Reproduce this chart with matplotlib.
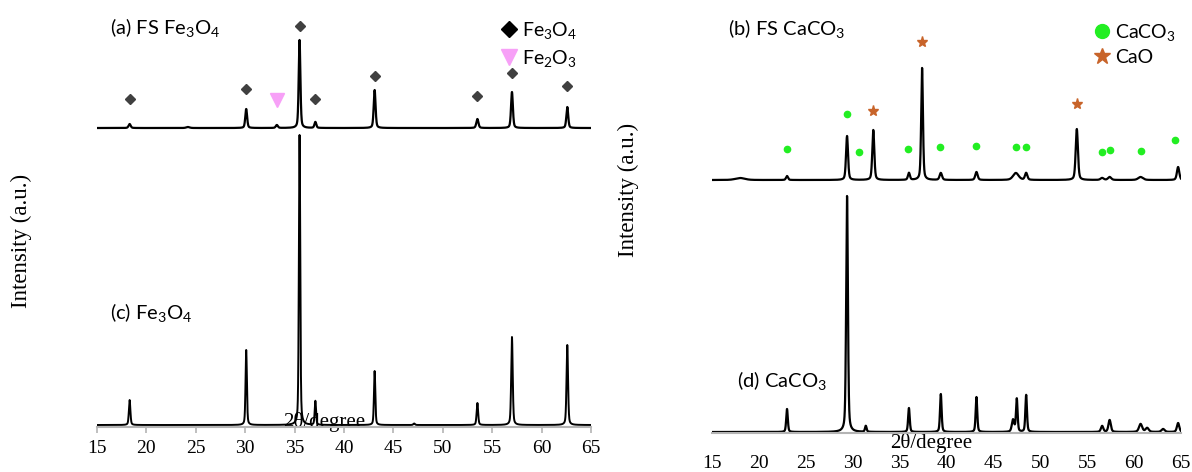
import numpy as np
import matplotlib.pyplot as plt

plt.rcParams['mathtext.fontset'] = 'custom'
plt.rcParams['mathtext.rm'] = 'Lato'
plt.rcParams['mathtext.it'] = 'Lato:italic'

# ---- data (2theta in degrees, intensity in a.u.) ----
# (a) FS Fe3O4
a_pos = [18.3, 24.2, 30.1, 33.2, 35.5, 37.1, 43.1, 53.5, 57.0, 62.6]
a_hgt = [4, 1, 19, 3, 88, 6, 38, 9, 36, 21]
a_wid = [0.25, 0.4, 0.22, 0.25, 0.2, 0.22, 0.22, 0.25, 0.22, 0.22]
# (c) Fe3O4
c_pos = [18.3, 30.1, 35.5, 37.1, 43.1, 47.1, 53.5, 57.0, 62.6]
c_hgt = [25, 75, 290, 24, 54, 1.5, 22, 88, 80]
c_wid = [0.18, 0.16, 0.16, 0.16, 0.16, 0.2, 0.18, 0.18, 0.18]
# (b) FS CaCO3
b_pos = [18.0, 23.0, 29.4, 32.2, 36.0, 37.4, 39.4, 43.2, 47.4, 48.5, 53.9, 56.6, 57.4, 60.7, 64.7]
b_hgt = [2, 4, 44, 50, 7, 112, 7, 8, 7, 7, 51, 2, 3, 3, 13]
b_wid = [1.2, 0.25, 0.25, 0.25, 0.25, 0.22, 0.3, 0.3, 0.7, 0.3, 0.28, 0.4, 0.4, 0.6, 0.3]
# (d) CaCO3
d_pos = [23.0, 29.4, 31.4, 36.0, 39.4, 43.2, 47.1, 47.5, 48.5, 56.6, 57.4, 60.7, 61.4, 63.1, 64.7]
d_hgt = [23, 236, 6, 24, 38, 35, 12, 33, 37, 6, 12, 8, 4, 3, 9]
d_wid = [0.2, 0.22, 0.2, 0.2, 0.2, 0.2, 0.3, 0.2, 0.2, 0.3, 0.3, 0.4, 0.4, 0.4, 0.3]

# phase markers (position, height on the plot)
fe3o4_x = [18.3, 30.1, 35.5, 37.1, 43.1, 53.5, 57.0, 62.6]
fe3o4_y = [328, 338, 401, 328, 351, 331, 354, 341]
fe2o3_x = [33.2]
fe2o3_y = [327]
caco3_x = [23.0, 29.4, 30.7, 35.9, 39.3, 43.2, 47.4, 48.5, 56.6, 57.4, 60.7, 64.4]
caco3_y = [284, 319, 281, 284, 286, 287, 286, 286, 281, 283, 282, 293]
cao_x = [32.2, 37.4, 53.9]
cao_y = [322, 391, 329]

tick_vals = [15, 20, 25, 30, 35, 40, 45, 50, 55, 60, 65]

tt = np.linspace(15, 65, 5001)


def pattern(pos, hgt, wid):
    y = np.zeros_like(tt)
    for p, h, w in zip(pos, hgt, wid):
        d = (tt - p) / (w / 2)
        y += h * (0.6 * np.exp(-np.log(2) * d**2) + 0.4 / (1 + d**2))
    return y


fig = plt.figure(figsize=(11.92, 4.72), dpi=100)
axL = fig.add_axes([0.0814, 0.0953, 0.4144, 0.8835])
axR = fig.add_axes([0.5973, 0.0826, 0.3934, 0.8962])

axL.plot(tt, pattern(a_pos, a_hgt, a_wid) + 299, color='black', lw=1.6)
axL.plot(tt, pattern(c_pos, c_hgt, c_wid) + 2, color='black', lw=1.4)
axL.plot(fe3o4_x, fe3o4_y, 'D', color='#404040', ms=5.5, ls='none')
axL.plot(fe2o3_x, fe2o3_y, 'v', color='#f7a0f7', ms=10, ls='none')
axL.set_ylim(0, 417)

axR.plot(tt, pattern(b_pos, b_hgt, b_wid) + 253, color='black', lw=1.6)
axR.plot(tt, pattern(d_pos, d_hgt, d_wid) + 1, color='black', lw=1.6)
axR.plot(caco3_x, caco3_y, 'o', color='#22ee22', ms=4.5, ls='none')
axR.plot(cao_x, cao_y, '*', color='#c8642a', ms=8, ls='none')
axR.set_ylim(0, 423)

lab_font = dict(family='Lato', fontsize=14.5)
axL.text(0.027, 0.957, '(a) FS Fe$_3$O$_4$', transform=axL.transAxes, va='center', **lab_font)
axL.text(0.027, 0.275, '(c) Fe$_3$O$_4$', transform=axL.transAxes, va='center', **lab_font)
axR.text(0.035, 0.957, '(b) FS CaCO$_3$', transform=axR.transAxes, va='center', **lab_font)
axR.text(0.053, 0.123, '(d) CaCO$_3$', transform=axR.transAxes, va='center', **lab_font)

hL = [plt.Line2D([], [], marker='D', color='black', ls='none', ms=8),
      plt.Line2D([], [], marker='v', color='#f7a0f7', ls='none', ms=11)]
axL.legend(hL, ['Fe$_3$O$_4$', 'Fe$_2$O$_3$'], loc='upper left', bbox_to_anchor=(0.805, 0.995),
           frameon=False, handlelength=0.7, handletextpad=0.3, labelspacing=0.35,
           prop={'family': 'Lato', 'size': 14}, borderaxespad=0)
hR = [plt.Line2D([], [], marker='o', color='#22ee22', ls='none', ms=10),
      plt.Line2D([], [], marker='*', color='#c8642a', ls='none', ms=12)]
axR.legend(hR, ['CaCO$_3$', 'CaO'], loc='upper left', bbox_to_anchor=(0.8, 0.99),
           frameon=False, handlelength=0.7, handletextpad=0.35, labelspacing=0.3,
           prop={'family': 'Lato', 'size': 14}, borderaxespad=0)

for ax, tl, pad in ((axL, 4, 5.5), (axR, 0, 16)):
    ax.set_xlim(15, 65)
    ax.set_xticks(tick_vals)
    ax.set_yticks([])
    for s in ('left', 'right', 'top'):
        ax.spines[s].set_visible(False)
    ax.spines['bottom'].set_color('#b4b4b4')
    ax.spines['bottom'].set_linewidth(1.5)
    ax.tick_params(axis='x', direction='out', length=tl, width=1.2, color='#b4b4b4',
                   pad=pad, labelsize=14)
    for lbl in ax.get_xticklabels():
        lbl.set_family('Liberation Serif')
    ax.set_xlabel('2θ/degree', family='Liberation Serif', fontsize=15)
    ax.set_facecolor('none')

axL.xaxis.set_label_coords(0.46, 0.035)
axR.xaxis.set_label_coords(0.468, 0.0)

fig.text(0.018, 0.49, 'Intensity (a.u.)', rotation=90, va='center', ha='center',
         family='Liberation Serif', fontsize=16.5)
fig.text(0.527, 0.597, 'Intensity (a.u.)', rotation=90, va='center', ha='center',
         family='Liberation Serif', fontsize=16.5)

fig.savefig('out.png', dpi=100)
